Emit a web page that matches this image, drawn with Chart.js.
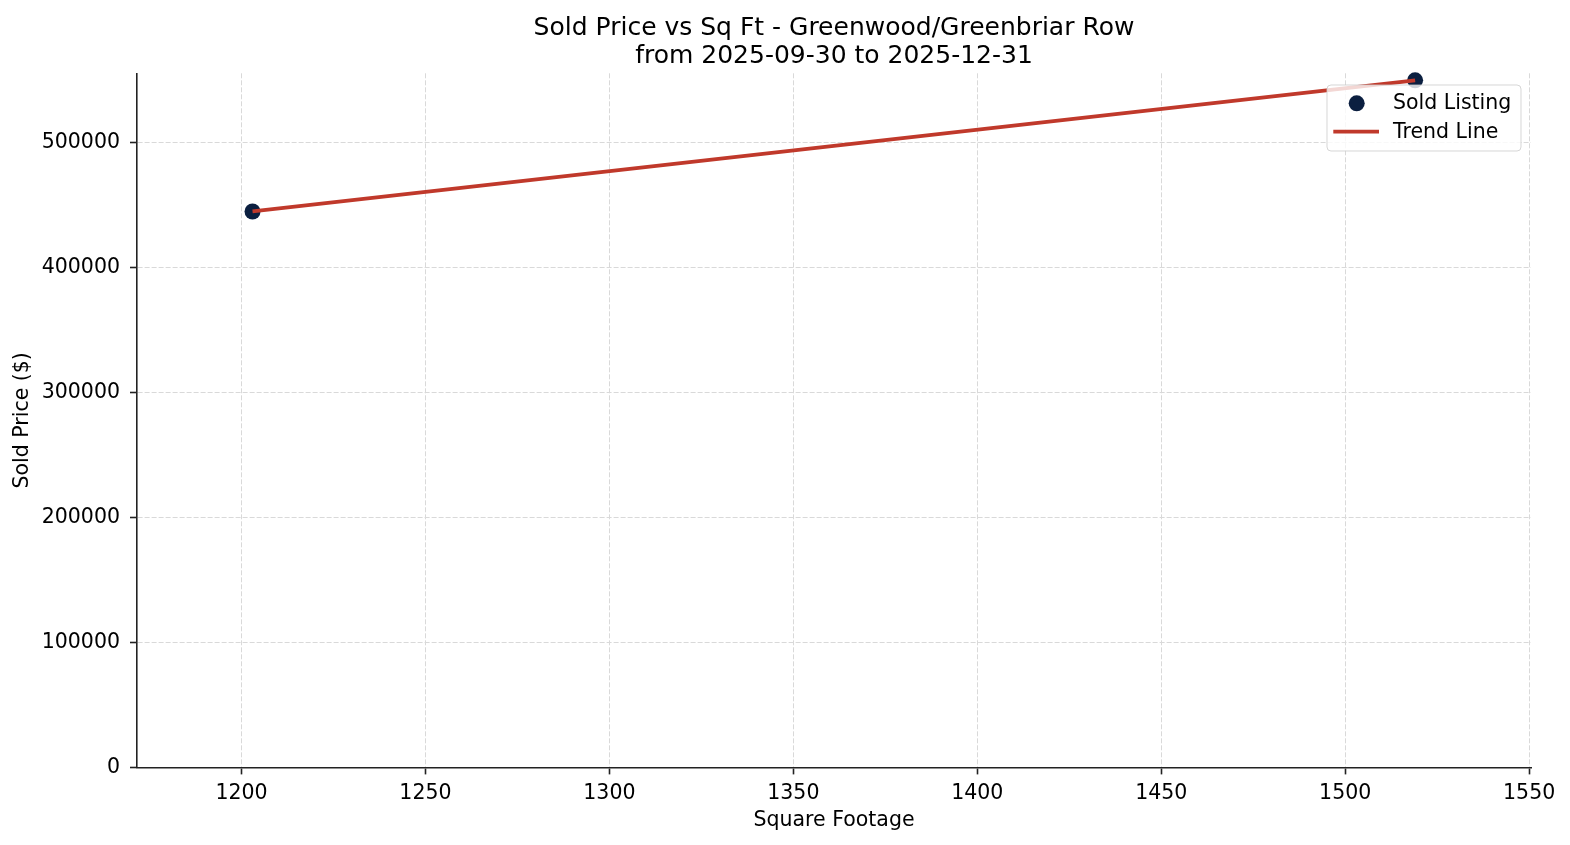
<!DOCTYPE html>
<html>
<head>
<meta charset="utf-8">
<title>Sold Price vs Sq Ft</title>
<script src="https://cdn.jsdelivr.net/npm/chart.js@4.4.1/dist/chart.umd.min.js"></script>
<style>
  html, body { margin: 0; padding: 0; background: #fff; }
  #wrap { width: 1570px; height: 845px; }
</style>
</head>
<body>
<div id="wrap"><canvas id="chart" width="1570" height="845"></canvas></div>
<script>
// data
const sqft = [1203, 1519];
const soldPrice = [445000, 550000];
const trendX = [1203, 1519];
const trendY = [445000, 550000];
const xTicks = [1200, 1250, 1300, 1350, 1400, 1450, 1500, 1550];
const yTicks = [0, 100000, 200000, 300000, 400000, 500000];
const titleLines = ['Sold Price vs Sq Ft - Greenwood/Greenbriar Row', 'from 2025-09-30 to 2025-12-31'];

const FONT = "'DejaVu Sans', sans-serif";
const NAVY = '#0b1f40';
const RED = '#c0392b';
const GRID = '#d9d9d9';
const SPINE = '#222';

// matplotlib-style legend box in the upper right corner
const legendBox = {
  id: 'legendBox',
  afterDraw(chart) {
    const { ctx, chartArea } = chart;
    const ds = chart.data.datasets;
    const w = 194, h = 66;
    const x = chartArea.right - 10 - w, y = chartArea.top + 11.7;
    ctx.save();
    ctx.beginPath();
    ctx.roundRect(x, y, w, h, 4);
    ctx.fillStyle = 'rgba(255,255,255,0.8)';
    ctx.fill();
    ctx.strokeStyle = 'rgba(204,204,204,0.8)';
    ctx.lineWidth = 1;
    ctx.stroke();

    const scatter = ds.find(d => d.type === 'scatter');
    const trend = ds.find(d => d.type === 'line');
    ctx.beginPath();
    ctx.arc(x + 29.7, y + 18.3, scatter.pointRadius, 0, Math.PI * 2);
    ctx.fillStyle = scatter.backgroundColor;
    ctx.fill();

    ctx.beginPath();
    ctx.moveTo(x + 6.3, y + 46.7);
    ctx.lineTo(x + 52, y + 46.7);
    ctx.strokeStyle = trend.borderColor;
    ctx.lineWidth = trend.borderWidth;
    ctx.stroke();

    ctx.fillStyle = '#000';
    ctx.font = `20.5px ${FONT}`;
    ctx.textBaseline = 'middle';
    ctx.textAlign = 'left';
    ctx.fillText(scatter.label, x + 66, y + 18.5);
    ctx.fillText(trend.label, x + 66, y + 47.3);
    ctx.restore();
  }
};

const pts = (xs, ys) => xs.map((v, i) => ({ x: v, y: ys[i] }));

new Chart(document.getElementById('chart').getContext('2d'), {
  data: {
    datasets: [
      {
        type: 'line',
        label: 'Trend Line',
        data: pts(trendX, trendY),
        borderColor: RED,
        borderWidth: 3.8,
        pointRadius: 0,
        fill: false,
        tension: 0,
        clip: false,
        order: 0,
      },
      {
        type: 'scatter',
        label: 'Sold Listing',
        data: pts(sqft, soldPrice),
        backgroundColor: NAVY,
        borderColor: NAVY,
        borderWidth: 0,
        pointRadius: 8,
        clip: false,
        order: 1,
      },
    ],
  },
  options: {
    responsive: false,
    animation: false,
    events: [],
    devicePixelRatio: 1,
    layout: { padding: { left: 0, right: 39, top: 0, bottom: 0 } },
    plugins: {
      legend: { display: false },
      tooltip: { enabled: false },
      title: {
        display: true,
        fullSize: false,
        text: titleLines,
        color: '#000',
        font: { family: FONT, size: 25, weight: 'normal', lineHeight: 28 / 25 },
        padding: { top: 14, bottom: 3.3 },
      },
    },
    scales: {
      x: {
        type: 'linear',
        min: 1171.6,
        max: 1550.5,
        afterBuildTicks: s => { s.ticks = xTicks.map(v => ({ value: v })); },
        afterFit: s => { s.height = 77.6; },
        ticks: { color: '#000', font: { family: FONT, size: 20.5 }, padding: 6.5, callback: v => String(v), maxRotation: 0 },
        grid: { color: GRID, lineWidth: 1, tickColor: SPINE, tickWidth: 1.6, tickLength: 7 },
        border: { color: SPINE, width: 1.6, dash: [5, 2] },
        title: { display: true, text: 'Square Footage', color: '#000', font: { family: FONT, size: 20.5 }, padding: { top: 0, bottom: 12.3 } },
      },
      y: {
        type: 'linear',
        min: 0,
        max: 555600,
        afterBuildTicks: s => { s.ticks = yTicks.map(v => ({ value: v })); },
        afterFit: s => { s.width = 137; },
        ticks: { color: '#000', font: { family: FONT, size: 20.5 }, padding: 10, callback: v => String(v) },
        grid: { color: GRID, lineWidth: 1, tickColor: SPINE, tickWidth: 1.6, tickLength: 7 },
        border: { color: SPINE, width: 1.6, dash: [5, 2] },
        title: { display: true, text: 'Sold Price ($)', color: '#000', font: { family: FONT, size: 20.5 }, padding: { top: 10.6, bottom: 0 } },
      },
    },
  },
  plugins: [legendBox],
});
</script>
</body>
</html>
